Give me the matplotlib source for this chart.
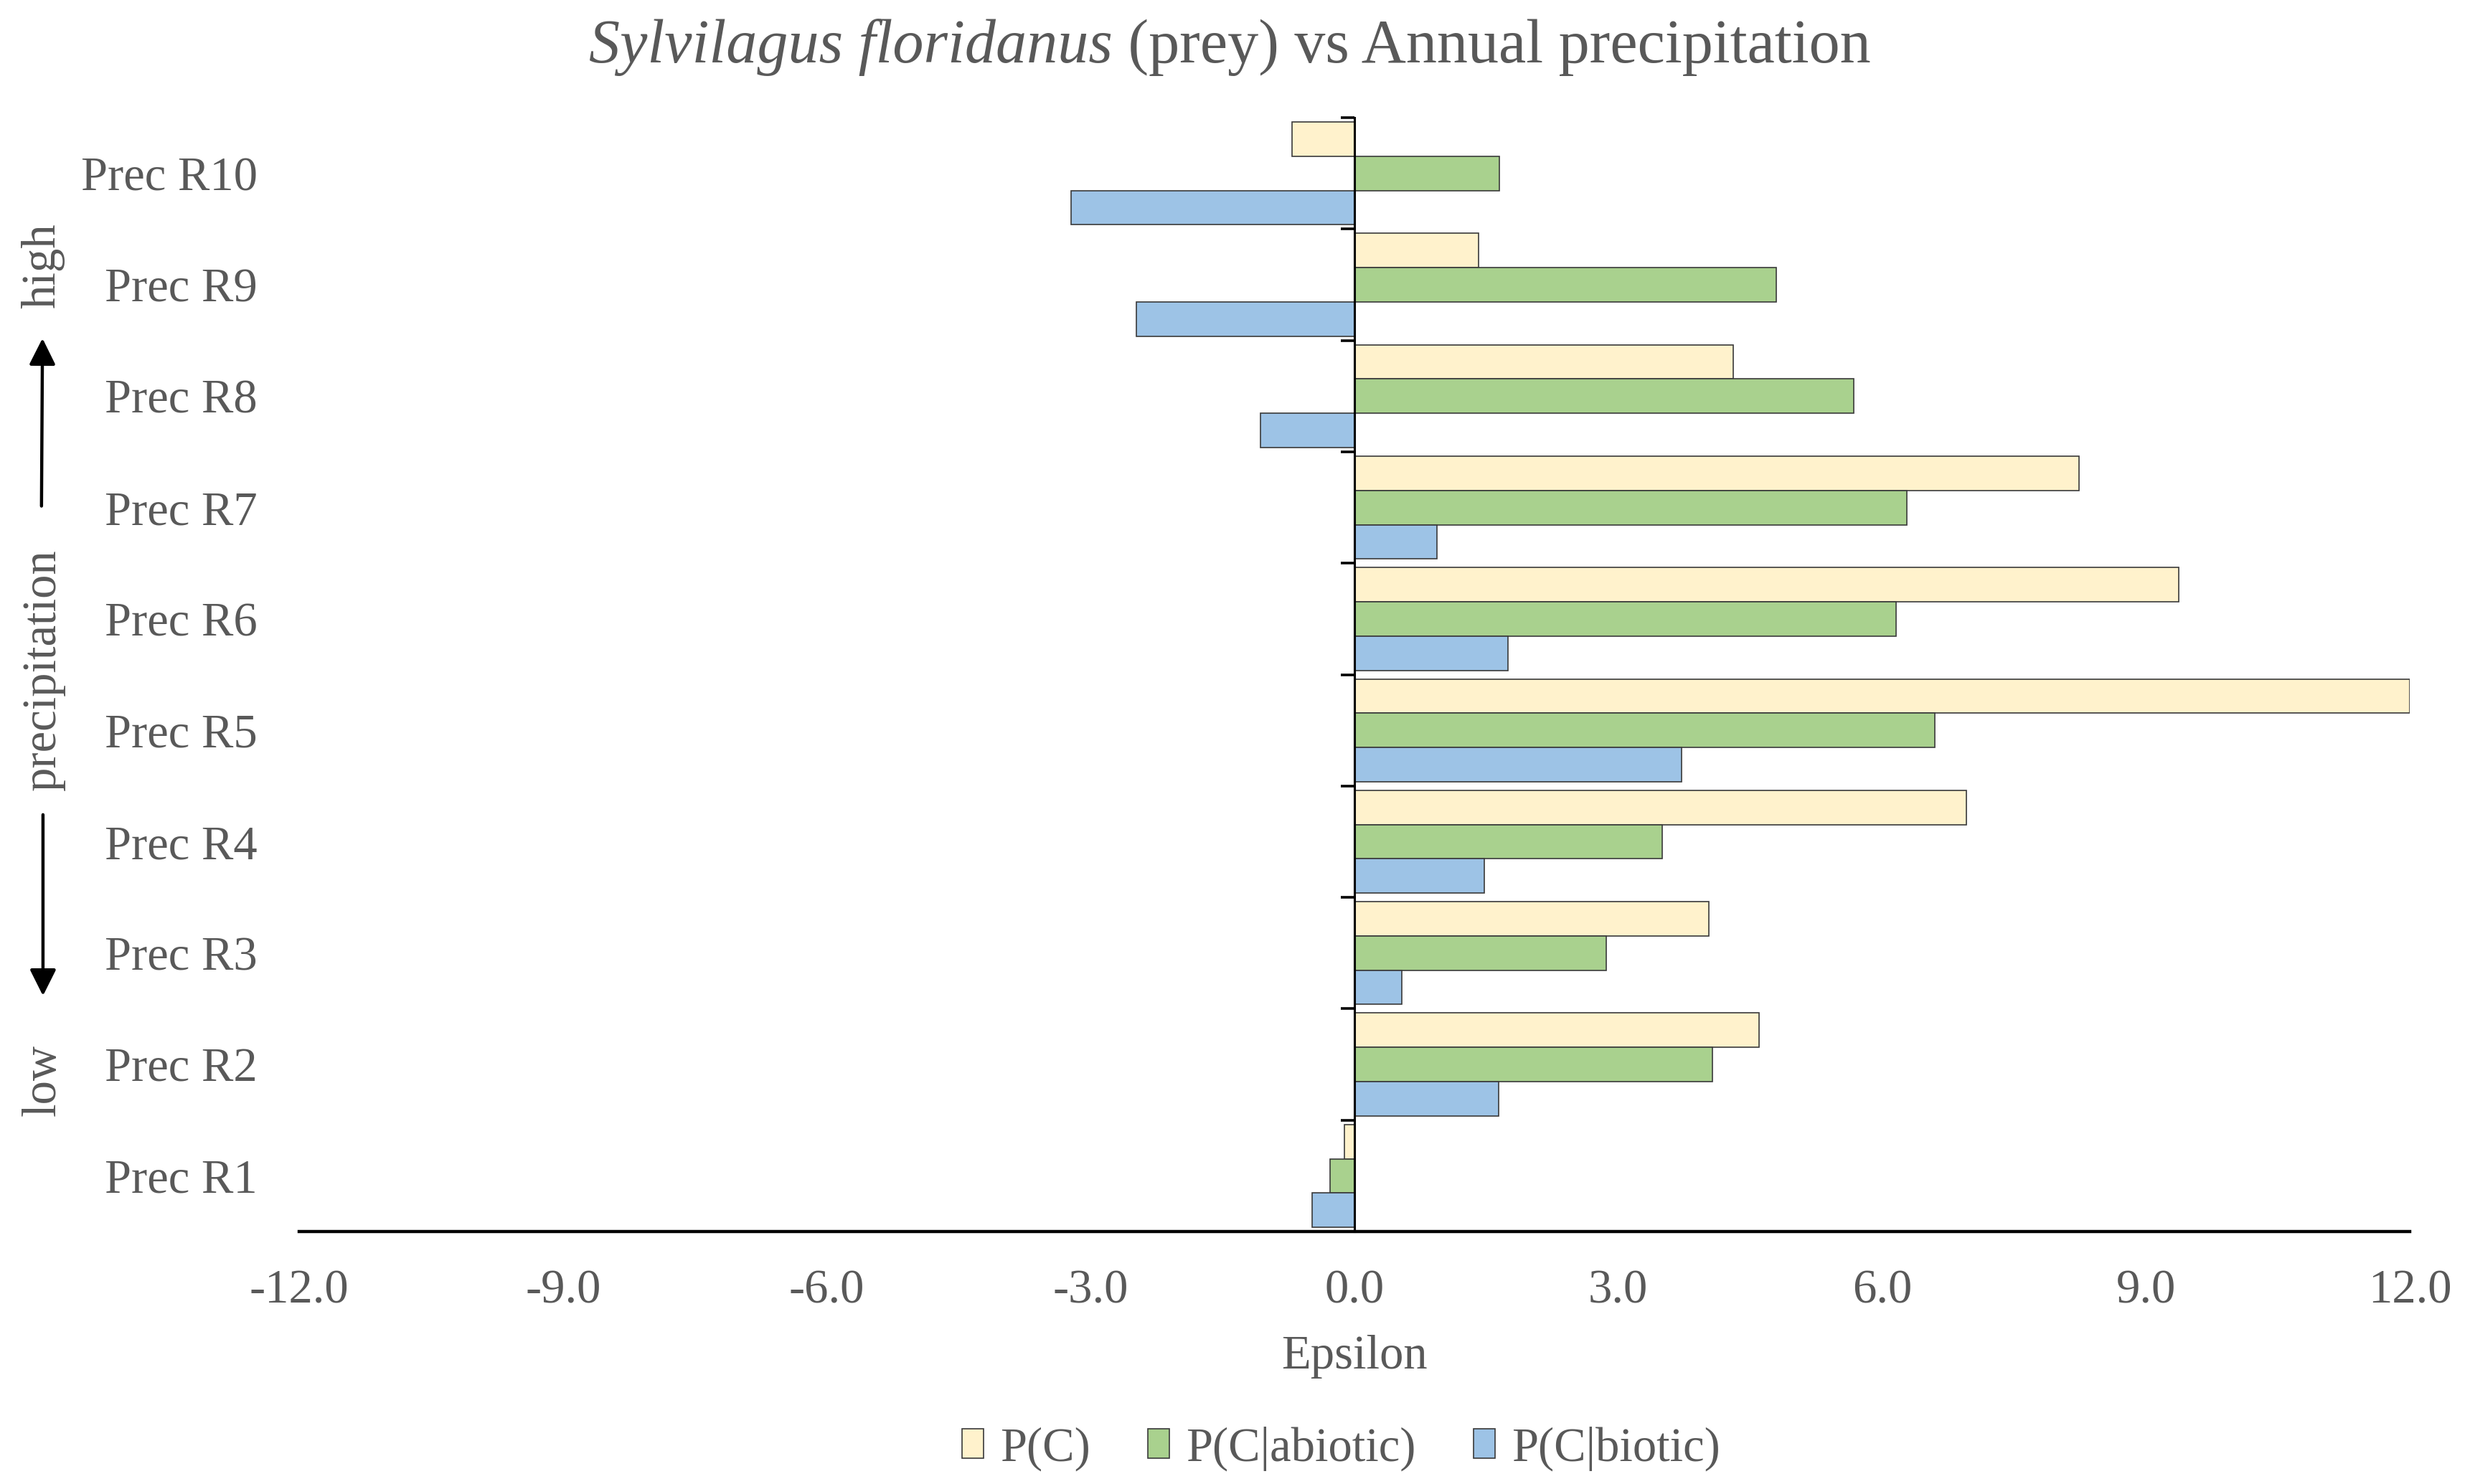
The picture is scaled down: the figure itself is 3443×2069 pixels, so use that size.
import matplotlib
matplotlib.use("Agg")
import matplotlib.pyplot as plt
import numpy as np
from matplotlib.ticker import FormatStrFormatter
from matplotlib.patches import FancyArrowPatch

plt.rcParams['font.family'] = ['Liberation Serif', 'DejaVu Serif']
plt.rcParams['axes.unicode_minus'] = False

# data (Epsilon values)
categories = ['Prec R1', 'Prec R2', 'Prec R3', 'Prec R4', 'Prec R5',
              'Prec R6', 'Prec R7', 'Prec R8', 'Prec R9', 'Prec R10']
p_c = [-0.11, 4.60, 4.03, 6.96, 12.0, 9.37, 8.24, 4.31, 1.41, -0.71]
p_abiotic = [-0.28, 4.07, 2.86, 3.50, 6.60, 6.16, 6.28, 5.68, 4.80, 1.65]
p_biotic = [-0.48, 1.64, 0.54, 1.48, 3.72, 1.75, 0.94, -1.07, -2.48, -3.22]
series_names = ['P(C)', 'P(C|abiotic)', 'P(C|biotic)']
colors = ['#FFF2CC', '#A9D18E', '#9DC3E6']
xticks = [-12, -9, -6, -3, 0, 3, 6, 9, 12]

grey = '#595959'
fig = plt.figure(figsize=(17.215, 10.345), dpi=200)
ax = fig.add_axes([0.1211, 0.1701, 0.9756 - 0.1211, 0.9207 - 0.1701])

y = np.arange(len(categories))
h = 1 / 3.25  # Excel style gap width of 25%
for vals, off, col, name in zip([p_c, p_abiotic, p_biotic], [h, 0, -h], colors, series_names):
    ax.barh(y + off, vals, height=h, color=col, edgecolor='#3a3a3a', linewidth=0.6, label=name, zorder=2)

ax.set_xlim(-12, 12)
ax.set_ylim(-0.5, len(categories) - 0.5)
ax.set_xticks(xticks)
ax.xaxis.set_major_formatter(FormatStrFormatter('%.1f'))
ax.tick_params(axis='x', length=0, pad=19, labelsize=24, labelcolor=grey)

ax.set_yticks(y)
ax.set_yticklabels(categories)
ax.set_yticks(np.arange(len(categories) + 1) - 0.5, minor=True)
ax.tick_params(axis='y', which='major', length=0, pad=21, labelsize=24, labelcolor=grey)
ax.tick_params(axis='y', which='minor', left=False, right=True, direction='in',
               length=6.8, width=1.3, color='black')

for s in ['top', 'left']:
    ax.spines[s].set_visible(False)
ax.spines['right'].set_position(('data', 0))
ax.spines['right'].set_linewidth(1.1)
ax.spines['right'].set_zorder(3)
ax.spines['bottom'].set_linewidth(1.6)

fig.text(0.5483, 0.0778, 'Epsilon', ha='center', va='baseline', fontsize=24, color=grey)

# title: italic species name + plain rest, centred as one line
t1 = fig.text(0.5, 0.958, 'Sylvilagus floridanus', style='italic',
              ha='left', va='baseline', fontsize=31, color=grey)
t2 = fig.text(0.5, 0.958, ' (prey) vs Annual precipitation',
              ha='left', va='baseline', fontsize=31, color=grey)
fig.canvas.draw()
r = fig.canvas.get_renderer()
w1 = t1.get_window_extent(r).width / fig.bbox.width
w2 = t2.get_window_extent(r).width / fig.bbox.width
x0 = 0.498 - (w1 + w2) / 2
t1.set_x(x0)
t2.set_x(x0 + w1)

# side annotation: precipitation low -> high
fig.text(0.0174, 0.821, 'high', rotation=90, ha='center', va='center', fontsize=24, color=grey)
fig.text(0.0174, 0.5486, 'precipitation', rotation=90, ha='center', va='center', fontsize=24, color=grey)
fig.text(0.0174, 0.272, 'low', rotation=90, ha='center', va='center', fontsize=24, color=grey)
arrow = dict(arrowstyle='-|>', mutation_scale=28, lw=1.6, color='black', shrinkA=0, shrinkB=0)
fig.add_artist(FancyArrowPatch((0.0168, 0.659), (0.0172, 0.772), transform=fig.transFigure, **arrow))
fig.add_artist(FancyArrowPatch((0.0174, 0.451), (0.0174, 0.329), transform=fig.transFigure, **arrow))

leg = ax.legend(loc='center', bbox_to_anchor=(0.543, 0.024), bbox_transform=fig.transFigure,
                ncol=3, frameon=False, fontsize=24, handlelength=0.45, handleheight=0.55,
                handletextpad=0.35, columnspacing=1.2)
for t in leg.get_texts():
    t.set_color(grey)

fig.savefig('out.png', dpi=200)
